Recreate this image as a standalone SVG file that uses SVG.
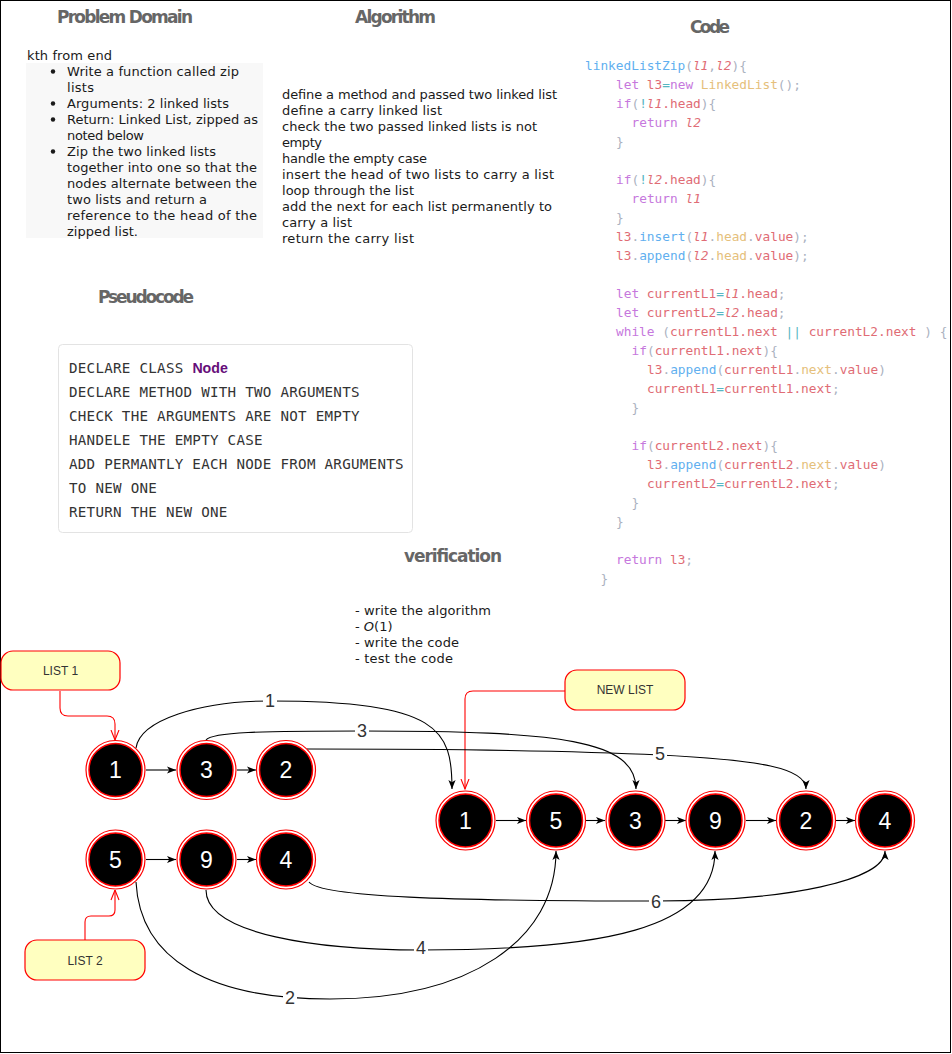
<svg xmlns="http://www.w3.org/2000/svg" width="952" height="1054" viewBox="0 0 952 1054">
<defs>
<style>
.title{font-family:"Comic Sans MS","DejaVu Sans",sans-serif;font-weight:bold;font-size:17px;fill:#666}
.txt{font-family:"Comic Sans MS","DejaVu Sans",sans-serif;font-size:13px;fill:#1a1a1a}
.code{font-family:"DejaVu Sans Mono",monospace;font-size:12.8px;fill:#abb2bf}
.pseudo{font-family:"DejaVu Sans Mono",monospace;font-size:14.2px;fill:#333;letter-spacing:0.27px}
.b{fill:#61afef}.p{fill:#c678dd}.r{fill:#e06c75}.c{fill:#56b6c2}.y{fill:#e5c07b}.g{fill:#abb2bf}.i{font-style:italic}
.ro{fill:#fff;stroke:#ff0000;stroke-width:1.2}
.ri{fill:#000;stroke:#ff0000;stroke-width:1.5}
.nt{font-family:"Liberation Sans",Arial,sans-serif;font-size:23px;fill:#fff;text-anchor:middle}
.box{fill:#ffffc0;stroke:#ff0000;stroke-width:1.2}
.bt{font-family:"Liberation Sans",Arial,sans-serif;font-size:12px;fill:#333;text-anchor:middle}
.e{fill:none;stroke:#000;stroke-width:1.1;marker-end:url(#arr)}
.re{fill:none;stroke:#ff0000;stroke-width:1.1;marker-end:url(#open)}
.el{font-family:"Liberation Sans",Arial,sans-serif;font-size:18px;fill:#333;text-anchor:middle}
</style>
<marker id="arr" viewBox="0 0 10 10" refX="10" refY="5" markerWidth="9" markerHeight="9" markerUnits="userSpaceOnUse" orient="auto"><path d="M0,1 L10,5 L0,9 L2.5,5 z" fill="#000"/></marker>
<marker id="open" viewBox="0 0 10 10" refX="10" refY="5" markerWidth="11" markerHeight="10" markerUnits="userSpaceOnUse" orient="auto"><path d="M0,1 L10,5 L0,9" fill="none" stroke="#ff0000" stroke-width="1.1"/></marker>
</defs>
<rect x="0.5" y="0.5" width="950" height="1052" fill="#fff" stroke="#000" stroke-width="1"/>

<!-- Titles -->
<text class="title" x="57" y="23" textLength="136">Problem Domain</text>
<text class="title" x="355" y="23" textLength="81">Algorithm</text>
<text class="title" x="690" y="33" textLength="40">Code</text>
<text class="title" x="98" y="303" textLength="96">Pseudocode</text>
<text class="title" x="404" y="562" textLength="98">verification</text>

<!-- Problem Domain -->
<g id="problem-domain">
<rect x="26" y="63" width="237" height="175" fill="#f8f8f8"/>
<text class="txt" x="27" y="60" textLength="85">kth from end</text>
<circle cx="53" cy="71.5" r="2.2" fill="#1a1a1a"/>
<circle cx="53" cy="103.5" r="2.2" fill="#1a1a1a"/>
<circle cx="53" cy="119.5" r="2.2" fill="#1a1a1a"/>
<circle cx="53" cy="151.5" r="2.2" fill="#1a1a1a"/>
<text class="txt" x="67" y="76" textLength="172">Write a function called zip</text>
<text class="txt" x="67" y="92" textLength="27">lists</text>
<text class="txt" x="67" y="108" textLength="162">Arguments: 2 linked lists</text>
<text class="txt" x="67" y="124" textLength="191">Return: Linked List, zipped as</text>
<text class="txt" x="67" y="140" textLength="77">noted below</text>
<text class="txt" x="67" y="156" textLength="149">Zip the two linked lists</text>
<text class="txt" x="67" y="172" textLength="190">together into one so that the</text>
<text class="txt" x="67" y="188" textLength="190">nodes alternate between the</text>
<text class="txt" x="67" y="204" textLength="140">two lists and return a</text>
<text class="txt" x="67" y="220" textLength="190">reference to the head of the</text>
<text class="txt" x="67" y="236" textLength="71">zipped list.</text>
</g>

<!-- Algorithm -->
<g id="algorithm">
<text class="txt" x="282" y="99" textLength="275">define a method and passed two linked list</text>
<text class="txt" x="282" y="115" textLength="160">define a carry linked list</text>
<text class="txt" x="282" y="131" textLength="255">check the two passed linked lists is not</text>
<text class="txt" x="282" y="147" textLength="40">empty</text>
<text class="txt" x="282" y="163" textLength="145">handle the empty case</text>
<text class="txt" x="282" y="179" textLength="272">insert the head of two lists to carry a list</text>
<text class="txt" x="282" y="195" textLength="132">loop through the list</text>
<text class="txt" x="282" y="211" textLength="270">add the next for each list permanently to</text>
<text class="txt" x="282" y="227" textLength="70">carry a list</text>
<text class="txt" x="282" y="243" textLength="132">return the carry list</text>
</g>

<!-- Code -->
<g id="code" class="code">
<text x="585" y="70"><tspan class="b">linkedListZip</tspan><tspan class="g">(</tspan><tspan class="r i">l1</tspan><tspan class="g">,</tspan><tspan class="r i">l2</tspan><tspan class="g">){</tspan></text>
<text x="616" y="89" xml:space="preserve"><tspan class="p">let</tspan><tspan class="r"> l3</tspan><tspan class="c">=</tspan><tspan class="p">new</tspan><tspan class="y"> LinkedList</tspan><tspan class="g">();</tspan></text>
<text x="616" y="108"><tspan class="p">if</tspan><tspan class="g">(</tspan><tspan class="c">!</tspan><tspan class="r i">l1</tspan><tspan class="r">.head</tspan><tspan class="g">){</tspan></text>
<text x="631.5" y="127" xml:space="preserve"><tspan class="p">return</tspan><tspan class="r i"> l2</tspan></text>
<text x="616" y="146" class="g">}</text>
<text x="616" y="184"><tspan class="p">if</tspan><tspan class="g">(</tspan><tspan class="c">!</tspan><tspan class="r i">l2</tspan><tspan class="r">.head</tspan><tspan class="g">){</tspan></text>
<text x="631.5" y="203" xml:space="preserve"><tspan class="p">return</tspan><tspan class="r i"> l1</tspan></text>
<text x="616" y="222" class="g">}</text>
<text x="616" y="241"><tspan class="r">l3</tspan><tspan class="g">.</tspan><tspan class="b">insert</tspan><tspan class="g">(</tspan><tspan class="r i">l1</tspan><tspan class="g">.</tspan><tspan class="y">head</tspan><tspan class="g">.</tspan><tspan class="r">value</tspan><tspan class="g">);</tspan></text>
<text x="616" y="260"><tspan class="r">l3</tspan><tspan class="g">.</tspan><tspan class="b">append</tspan><tspan class="g">(</tspan><tspan class="r i">l2</tspan><tspan class="g">.</tspan><tspan class="y">head</tspan><tspan class="g">.</tspan><tspan class="r">value</tspan><tspan class="g">);</tspan></text>
<text x="616" y="298" xml:space="preserve"><tspan class="p">let</tspan><tspan class="r"> currentL1</tspan><tspan class="c">=</tspan><tspan class="r i">l1</tspan><tspan class="r">.head</tspan><tspan class="g">;</tspan></text>
<text x="616" y="317" xml:space="preserve"><tspan class="p">let</tspan><tspan class="r"> currentL2</tspan><tspan class="c">=</tspan><tspan class="r i">l2</tspan><tspan class="r">.head</tspan><tspan class="g">;</tspan></text>
<text x="616" y="336" xml:space="preserve"><tspan class="p">while</tspan><tspan class="g"> (</tspan><tspan class="r">currentL1.next</tspan><tspan class="c"> ||</tspan><tspan class="r"> currentL2.next</tspan><tspan class="g"> ) {</tspan></text>
<text x="631.5" y="355"><tspan class="p">if</tspan><tspan class="g">(</tspan><tspan class="r">currentL1.next</tspan><tspan class="g">){</tspan></text>
<text x="647" y="374"><tspan class="r">l3</tspan><tspan class="g">.</tspan><tspan class="b">append</tspan><tspan class="g">(</tspan><tspan class="r">currentL1</tspan><tspan class="g">.</tspan><tspan class="y">next</tspan><tspan class="g">.</tspan><tspan class="r">value</tspan><tspan class="g">)</tspan></text>
<text x="647" y="393"><tspan class="r">currentL1</tspan><tspan class="c">=</tspan><tspan class="r">currentL1.next</tspan><tspan class="g">;</tspan></text>
<text x="631.5" y="412" class="g">}</text>
<text x="631.5" y="450"><tspan class="p">if</tspan><tspan class="g">(</tspan><tspan class="r">currentL2.next</tspan><tspan class="g">){</tspan></text>
<text x="647" y="469"><tspan class="r">l3</tspan><tspan class="g">.</tspan><tspan class="b">append</tspan><tspan class="g">(</tspan><tspan class="r">currentL2</tspan><tspan class="g">.</tspan><tspan class="y">next</tspan><tspan class="g">.</tspan><tspan class="r">value</tspan><tspan class="g">)</tspan></text>
<text x="647" y="488"><tspan class="r">currentL2</tspan><tspan class="c">=</tspan><tspan class="r">currentL2.next</tspan><tspan class="g">;</tspan></text>
<text x="631.5" y="507" class="g">}</text>
<text x="616" y="526" class="g">}</text>
<text x="616" y="564" xml:space="preserve"><tspan class="p">return</tspan><tspan class="r"> l3</tspan><tspan class="g">;</tspan></text>
<text x="600.5" y="583" class="g">}</text>
</g>

<!-- Pseudocode -->
<g id="pseudocode">
<rect x="58.5" y="344.5" width="354" height="188" rx="4" fill="#fff" stroke="#e3e3e3"/>
<text class="pseudo" x="69" y="373">DECLARE CLASS <tspan font-family="Liberation Sans,Arial,sans-serif" font-weight="bold" fill="#660e7a" letter-spacing="0">Node</tspan></text>
<text class="pseudo" x="69" y="397">DECLARE METHOD WITH TWO ARGUMENTS</text>
<text class="pseudo" x="69" y="421">CHECK THE ARGUMENTS ARE NOT EMPTY</text>
<text class="pseudo" x="69" y="445">HANDELE THE EMPTY CASE</text>
<text class="pseudo" x="69" y="469">ADD PERMANTLY EACH NODE FROM ARGUMENTS</text>
<text class="pseudo" x="69" y="493">TO NEW ONE</text>
<text class="pseudo" x="69" y="517">RETURN THE NEW ONE</text>
</g>

<!-- Verification -->
<g id="verification">
<text class="txt" x="355" y="615" textLength="136">- write the algorithm</text>
<text class="txt" x="355" y="631">- <tspan font-style="italic">O</tspan>(1)</text>
<text class="txt" x="355" y="647" textLength="104">- write the code</text>
<text class="txt" x="355" y="663" textLength="98">- test the code</text>
</g>

<!-- Connectors -->
<g id="connectors">
<path class="re" d="M60,691 V708 Q60,716 68,716 H107 Q115,716 115,724 V740"/>
<path class="re" d="M565,691 H473 Q465,691 465,699 V789"/>
<path class="re" d="M85,940 V922 Q85,916 91,916 H109 Q115,916 115,910 V890"/>

<path class="e" d="M146,770 H176"/>
<path class="e" d="M237,770 H256"/>
<path class="e" d="M146,859.5 H176"/>
<path class="e" d="M237,859.5 H256"/>
<path class="e" d="M496,820.5 H526"/>
<path class="e" d="M586,820.5 H605"/>
<path class="e" d="M665,820.5 H686"/>
<path class="e" d="M746,820.5 H776"/>
<path class="e" d="M836,820.5 H855"/>

<path class="e" d="M136,748 C140,720 200,701 270,701 C440,701 452,730 452,789"/>
<path class="e" d="M206,740 C212,732 260,731 362,731 C560,731 636,740 636,789"/>
<path class="e" d="M307,749 C450,749 560,750 660,755 C760,760 806,768 806,789"/>
<path class="e" d="M136,882 C140,960 210,999 330,999 C470,999 556,940 556,851"/>
<path class="e" d="M206,890 C206,935 320,950 421,950 C600,950 715,930 715,851"/>
<path class="e" d="M309,882 C320,897 450,901 656,901 C790,901 885,880 885,851"/>

<rect x="263" y="692" width="14" height="18" fill="#fff"/>
<text class="el" x="270" y="707">1</text>
<rect x="355" y="722" width="14" height="18" fill="#fff"/>
<text class="el" x="362" y="737">3</text>
<rect x="653" y="745" width="14" height="18" fill="#fff"/>
<text class="el" x="660" y="760">5</text>
<rect x="649" y="893" width="14" height="18" fill="#fff"/>
<text class="el" x="656" y="908">6</text>
<rect x="414" y="939" width="14" height="18" fill="#fff"/>
<text class="el" x="421" y="954">4</text>
<rect x="283" y="989" width="14" height="18" fill="#fff"/>
<text class="el" x="290" y="1004">2</text>
</g>

<!-- Boxes -->
<g id="list1-label"><rect class="box" x="1" y="651" width="119" height="39" rx="12"/><text class="bt" x="60.5" y="675">LIST 1</text></g>
<g id="newlist-label"><rect class="box" x="565" y="670" width="120" height="40" rx="12"/><text class="bt" x="625" y="694">NEW LIST</text></g>
<g id="list2-label"><rect class="box" x="25" y="940" width="120" height="40" rx="12"/><text class="bt" x="85" y="965">LIST 2</text></g>

<!-- Nodes list 1 -->
<g id="l1-n1"><circle class="ro" cx="115.5" cy="770" r="29.5"/><circle class="ri" cx="115.5" cy="770" r="26.5"/><text class="nt" x="115.5" y="778">1</text></g>
<g id="l1-n3"><circle class="ro" cx="206.5" cy="770" r="29.5"/><circle class="ri" cx="206.5" cy="770" r="26.5"/><text class="nt" x="206.5" y="778">3</text></g>
<g id="l1-n2"><circle class="ro" cx="286" cy="770" r="29.5"/><circle class="ri" cx="286" cy="770" r="26.5"/><text class="nt" x="286" y="778">2</text></g>
<!-- Nodes list 2 -->
<g id="l2-n5"><circle class="ro" cx="115.5" cy="859.5" r="29.5"/><circle class="ri" cx="115.5" cy="859.5" r="26.5"/><text class="nt" x="115.5" y="867.5">5</text></g>
<g id="l2-n9"><circle class="ro" cx="206.5" cy="859.5" r="29.5"/><circle class="ri" cx="206.5" cy="859.5" r="26.5"/><text class="nt" x="206.5" y="867.5">9</text></g>
<g id="l2-n4"><circle class="ro" cx="286" cy="859.5" r="29.5"/><circle class="ri" cx="286" cy="859.5" r="26.5"/><text class="nt" x="286" y="867.5">4</text></g>
<!-- New list -->
<g id="nl-n1"><circle class="ro" cx="465.5" cy="820.5" r="29.5"/><circle class="ri" cx="465.5" cy="820.5" r="26.5"/><text class="nt" x="465.5" y="828.5">1</text></g>
<g id="nl-n5"><circle class="ro" cx="556" cy="820.5" r="29.5"/><circle class="ri" cx="556" cy="820.5" r="26.5"/><text class="nt" x="556" y="828.5">5</text></g>
<g id="nl-n3"><circle class="ro" cx="635.5" cy="820.5" r="29.5"/><circle class="ri" cx="635.5" cy="820.5" r="26.5"/><text class="nt" x="635.5" y="828.5">3</text></g>
<g id="nl-n9"><circle class="ro" cx="715.5" cy="820.5" r="29.5"/><circle class="ri" cx="715.5" cy="820.5" r="26.5"/><text class="nt" x="715.5" y="828.5">9</text></g>
<g id="nl-n2"><circle class="ro" cx="806" cy="820.5" r="29.5"/><circle class="ri" cx="806" cy="820.5" r="26.5"/><text class="nt" x="806" y="828.5">2</text></g>
<g id="nl-n4"><circle class="ro" cx="885" cy="820.5" r="29.5"/><circle class="ri" cx="885" cy="820.5" r="26.5"/><text class="nt" x="885" y="828.5">4</text></g>
</svg>
